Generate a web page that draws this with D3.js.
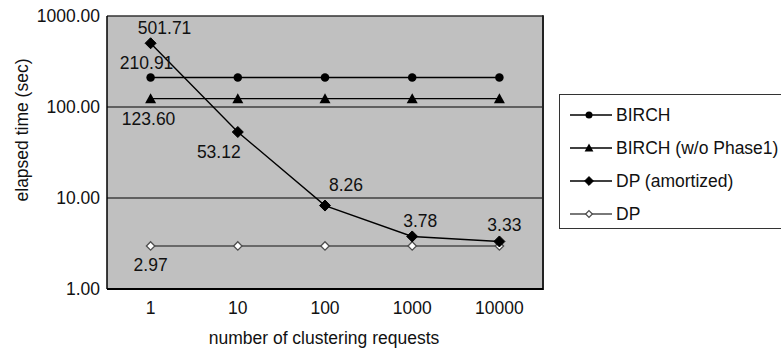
<!DOCTYPE html>
<html>
<head>
<meta charset="utf-8">
<script src="https://cdn.jsdelivr.net/npm/d3@7"></script>
<style>
  body { margin: 0; background: #fff; }
  text { font-family: "Liberation Sans", Arial, sans-serif; fill: #111; }
</style>
</head>
<body>
<svg id="chart" width="781" height="350"></svg>
<script>
// categories and series
const requests = ["1", "10", "100", "1000", "10000"];
const birch = [210.91, 210.91, 210.91, 210.91, 210.91];
const birchNoPhase1 = [123.60, 123.60, 123.60, 123.60, 123.60];
const dpAmortized = [501.71, 53.12, 8.26, 3.78, 3.33];
const dp = [2.97, 2.97, 2.97, 2.97, 2.97];
const yTicks = [1, 10, 100, 1000];

const fontSize = 17.5;
const svg = d3.select("#chart");
const plot = { left: 107, right: 543, top: 16, bottom: 289 };

const x = d3.scaleBand().domain(requests).range([plot.left, plot.right]).padding(0);
const y = d3.scaleLog().domain([1, 1000]).range([plot.bottom, plot.top]);
const cx = d => x(d) + x.bandwidth() / 2;

// plot background
svg.append("rect")
  .attr("x", plot.left).attr("y", plot.top)
  .attr("width", plot.right - plot.left).attr("height", plot.bottom - plot.top)
  .attr("fill", "#c0c0c0");

// gridlines at the decades
svg.append("g").selectAll("line")
  .data(yTicks.filter(t => t > 1 && t < 1000))
  .join("line")
  .attr("x1", plot.left).attr("x2", plot.right)
  .attr("y1", d => y(d)).attr("y2", d => y(d))
  .attr("stroke", "#000").attr("stroke-width", 1);

// frame
svg.append("line").attr("x1", plot.left).attr("x2", plot.right)
  .attr("y1", plot.top).attr("y2", plot.top).attr("stroke", "#333").attr("stroke-width", 1.5);
svg.append("line").attr("x1", plot.right).attr("x2", plot.right)
  .attr("y1", plot.top - 0.75).attr("y2", plot.bottom + 1).attr("stroke", "#222").attr("stroke-width", 2);
svg.append("line").attr("x1", plot.left).attr("x2", plot.left)
  .attr("y1", plot.top).attr("y2", plot.bottom).attr("stroke", "#000").attr("stroke-width", 1.5);
svg.append("line").attr("x1", plot.left).attr("x2", plot.right)
  .attr("y1", plot.bottom).attr("y2", plot.bottom).attr("stroke", "#000").attr("stroke-width", 2);

// axes (labels only)
const yAxis = svg.append("g")
  .attr("transform", `translate(${plot.left},0)`)
  .call(d3.axisLeft(y).tickValues(yTicks).tickFormat(d3.format(".2f")).tickSize(0).tickPadding(7));
const xAxis = svg.append("g")
  .attr("transform", `translate(0,${plot.bottom})`)
  .call(d3.axisBottom(x).tickSize(0).tickPadding(13));
[xAxis, yAxis].forEach(g => {
  g.select(".domain").remove();
  g.selectAll("text").attr("font-size", fontSize).attr("fill", "#111")
    .attr("font-family", "Liberation Sans, Arial, sans-serif");
});

svg.append("text")
  .attr("x", (plot.left + plot.right) / 2 - 1).attr("y", 344)
  .attr("text-anchor", "middle").attr("font-size", fontSize)
  .text("number of clustering requests");
svg.append("text")
  .attr("transform", "translate(28,130) rotate(-90)")
  .attr("text-anchor", "middle").attr("font-size", fontSize)
  .text("elapsed time (sec)");

// series definitions
const series = [
  { name: "BIRCH", values: birch, color: "#000", shape: "circle", fill: "#000" },
  { name: "BIRCH (w/o Phase1)", values: birchNoPhase1, color: "#000", shape: "triangle", fill: "#000" },
  { name: "DP (amortized)", values: dpAmortized, color: "#000", shape: "diamond", fill: "#000" },
  { name: "DP", values: dp, color: "#4d4d4d", shape: "diamond", fill: "#fff", hollow: true }
];

function marker(g, s, size) {
  if (s.shape === "circle") {
    g.append("circle").attr("r", size * 0.5).attr("fill", s.fill);
  } else if (s.shape === "triangle") {
    const h = size;
    g.append("path").attr("d", `M0,${-h * 0.55}L${h * 0.55},${h * 0.45}L${-h * 0.55},${h * 0.45}Z`).attr("fill", s.fill);
  } else {
    const r = s.hollow ? size * 0.42 : size * 0.55;
    g.append("path").attr("d", `M0,${-r}L${r},0L0,${r}L${-r},0Z`)
      .attr("fill", s.fill).attr("stroke", s.color).attr("stroke-width", s.hollow ? 1.3 : 1);
  }
}

const line = d3.line().x((d, i) => cx(requests[i])).y(d => y(d));

// draw DP first so the amortized line sits on top
[series[3], series[1], series[0], series[2]].forEach(s => {
  svg.append("path").datum(s.values)
    .attr("d", line).attr("fill", "none")
    .attr("stroke", s.color).attr("stroke-width", 1.4);
  s.values.forEach((v, i) => {
    const g = svg.append("g").attr("transform", `translate(${cx(requests[i])},${y(v)})`);
    marker(g, s, s.shape === "circle" ? 8.5 : 10);
  });
});

// value labels: [series index, point index, dx, dy]
const labelSpots = [
  [2, 0, 14, -15], [0, 0, -4, -15], [1, 0, -2, 20], [2, 1, -19, 20],
  [2, 2, 21, -21], [2, 3, 8, -16], [2, 4, 5, -17], [3, 0, 0, 19]
];
svg.append("g").selectAll("text")
  .data(labelSpots)
  .join("text")
  .attr("x", d => cx(requests[d[1]]) + d[2])
  .attr("y", d => y(series[d[0]].values[d[1]]) + d[3])
  .attr("dy", "0.35em")
  .attr("text-anchor", "middle").attr("font-size", fontSize)
  .text(d => d3.format(".2f")(series[d[0]].values[d[1]]));

// legend
const legend = svg.append("g");
legend.append("rect")
  .attr("x", 559.5).attr("y", 94.5).attr("width", 240).attr("height", 134)
  .attr("fill", "#fff").attr("stroke", "#333").attr("stroke-width", 1);
series.forEach((s, i) => {
  const ly = 115 + i * 33;
  const row = legend.append("g").attr("transform", `translate(0,${ly})`);
  row.append("line").attr("x1", 570).attr("x2", 612).attr("y1", 0).attr("y2", 0)
    .attr("stroke", s.color).attr("stroke-width", 1.4);
  const m = row.append("g").attr("transform", "translate(589,0)");
  marker(m, s, s.shape === "circle" ? 7 : 8);
  row.append("text").attr("x", 616).attr("y", 0).attr("dy", "0.35em")
    .attr("font-size", fontSize).text(s.name);
});
</script>
</body>
</html>
